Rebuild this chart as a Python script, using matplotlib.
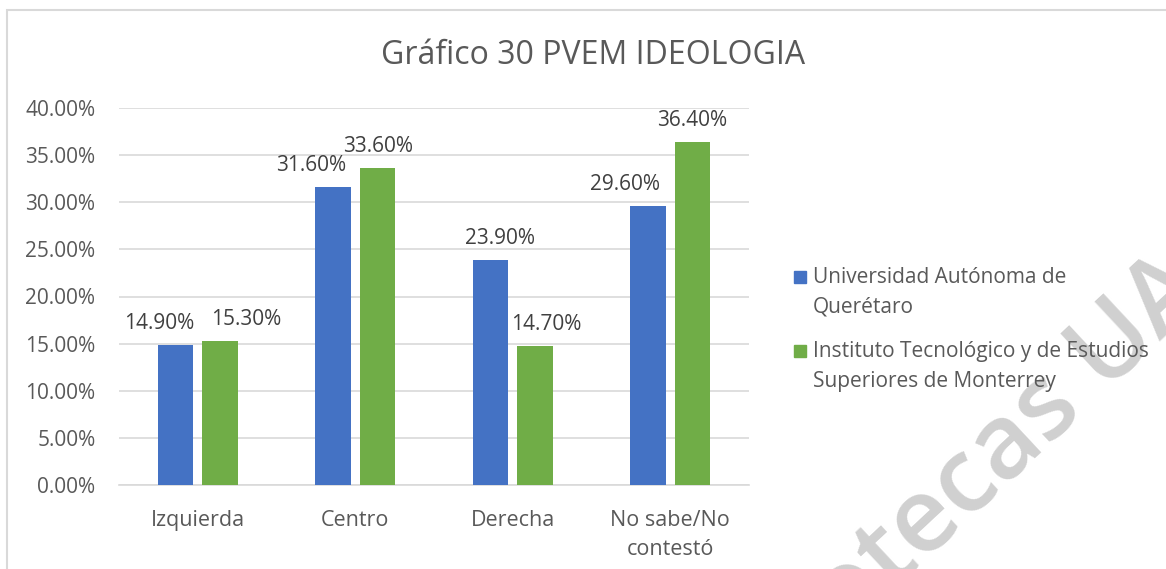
import matplotlib
matplotlib.use("Agg")
import matplotlib.pyplot as plt
import numpy as np
from matplotlib.patches import Rectangle

categories = ["Izquierda", "Centro", "Derecha", "No sabe/No\ncontestó"]
series_names = ["Universidad Autónoma de\nQuerétaro",
                "Instituto Tecnológico y de Estudios\nSuperiores de Monterrey"]
uaq = [14.9, 31.6, 23.9, 29.6]
itesm = [15.3, 33.6, 14.7, 36.4]
yticks = [0, 5, 10, 15, 20, 25, 30, 35, 40]
title = "Gráfico 30 PVEM IDEOLOGIA"

# horizontal nudges of the data labels (pixels), as placed in the original
uaq_label_dx = [-16.5, -22, 10, -23]
itesm_label_dx = [26, 0, 11.5, 0]

plt.rcParams['font.family'] = ['Open Sans', 'DejaVu Sans']
plt.rcParams['ytick.major.pad'] = 17
plt.rcParams['xtick.major.pad'] = 18
plt.rcParams['xtick.major.size'] = 0
plt.rcParams['ytick.major.size'] = 0
txt = "#595959"
PX = 0.72  # points per pixel at dpi 100

W, H = 1166, 569
fig = plt.figure(figsize=(W / 100, H / 100), dpi=100)
fig.patches.append(Rectangle((7 / W, -0.01), 1.02, 1 - 10 / H + 0.01, transform=fig.transFigure,
                             fill=False, edgecolor="#d9d9d9", linewidth=1.5))

# watermark
fig.text(958 / W, 1 - 493 / H, "Bibliotecas UAQ", fontsize=75, fontweight="semibold",
         color="#d0d0d0", rotation=43, rotation_mode="anchor",
         ha="center", va="center", zorder=0)

ax = fig.add_axes([119 / W, 84 / H, 630 / W, 377 / H])
ax.patch.set_alpha(0)

x = np.arange(len(categories))
w = 0.224
off = 0.142
colors = ["#4472C4", "#70AD47"]
b1 = ax.bar(x - off, uaq, w, color=colors[0], label=series_names[0], zorder=3)
b2 = ax.bar(x + off, itesm, w, color=colors[1], label=series_names[1], zorder=3)
for bars, vals, dxs in ((b1, uaq, uaq_label_dx), (b2, itesm, itesm_label_dx)):
    for r, v, dx in zip(bars, vals, dxs):
        ax.annotate(f"{v:.2f}%", (r.get_x() + r.get_width() / 2, v),
                    xytext=(dx * PX, 16 * PX),
                    textcoords="offset points", ha="center", va="baseline",
                    fontsize=15, color="#404040", zorder=4)

ax.set_xlim(-0.5, 3.5)
ax.set_ylim(0, 40)
ax.set_yticks(yticks)
ax.set_yticklabels([f"{t:.2f}%" for t in yticks], fontsize=15, color=txt)
ax.set_xticks(x)
ax.set_xticklabels(categories, fontsize=15.5, color=txt, linespacing=1.5)
ax.grid(axis='y', color="#d9d9d9", linewidth=1.2, zorder=0)
for s in ["top", "right", "left"]:
    ax.spines[s].set_visible(False)
ax.spines["bottom"].set_color("#d9d9d9")
ax.spines["bottom"].set_linewidth(1.2)

fig.text(593 / W, 1 - 55 / H, title, ha="center", va="center", fontsize=23, color=txt)

# legend (Excel style: square aligned with first line of each wrapped label)
first_baselines = [283, 357]
line_step = 30
for name, col, yb in zip(series_names, colors, first_baselines):
    fig.patches.append(Rectangle((794 / W, 1 - yb / H), 12 / W, 12.5 / H,
                                 transform=fig.transFigure, color=col))
    for i, line in enumerate(name.split("\n")):
        fig.text(813 / W, 1 - (yb + i * line_step) / H, line, ha="left", va="baseline",
                 fontsize=15, color=txt)

fig.savefig("out.png", dpi=100)
